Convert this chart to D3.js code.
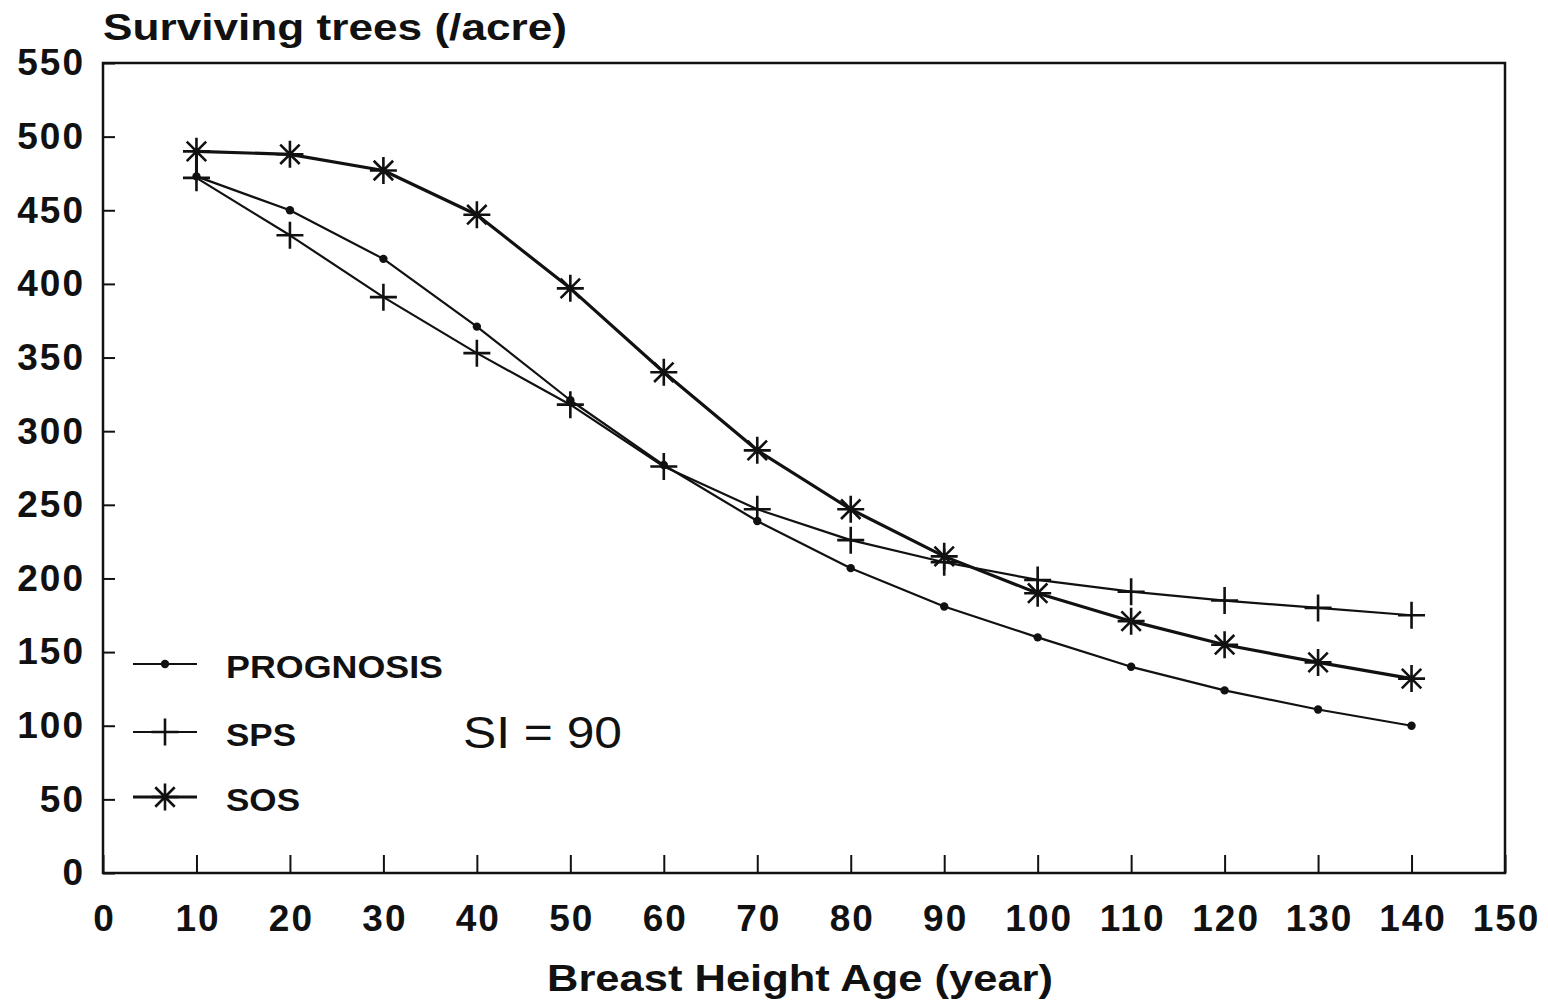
<!DOCTYPE html>
<html>
<head>
<meta charset="utf-8">
<script src="https://cdn.jsdelivr.net/npm/d3@7"></script>
<style>
  html, body { margin: 0; padding: 0; background: #fff; }
  svg { display: block; }
  text { font-family: "Liberation Sans", Arial, Helvetica, sans-serif; fill: #111; }
</style>
</head>
<body>
<svg id="chart" width="1548" height="1002"></svg>
<script>
// Surviving trees per acre by breast height age, three growth models (SI = 90)
const ages = [10, 20, 30, 40, 50, 60, 70, 80, 90, 100, 110, 120, 130, 140];
const prognosis = [473, 450, 417, 371, 321, 277, 239, 207, 181, 160, 140, 124, 111, 100];
const sps = [472, 433, 391, 353, 318, 276, 247, 226, 211, 199, 191, 185, 180, 175];
const sos = [490, 488, 477, 447, 397, 340, 287, 247, 215, 190, 171, 155, 143, 132];
const xTicks = [0, 10, 20, 30, 40, 50, 60, 70, 80, 90, 100, 110, 120, 130, 140, 150];
const yTicks = [0, 50, 100, 150, 200, 250, 300, 350, 400, 450, 500, 550];
const seriesNames = ["PROGNOSIS", "SPS", "SOS"];

const svg = d3.select("#chart");
const ink = "#111";

const x = d3.scaleLinear().domain([0, 150]).range([103, 1505]);
const y = d3.scaleLinear().domain([0, 550]).range([873, 63]);

// axes with inward ticks
const xAxis = d3.axisBottom(x).tickValues(xTicks).tickSizeInner(-18).tickSizeOuter(0).tickPadding(32);
const yAxis = d3.axisLeft(y).tickValues(yTicks).tickSizeInner(-12).tickSizeOuter(0).tickPadding(18);

const gx = svg.append("g").attr("transform", `translate(0,${y(0)})`).call(xAxis);
const gy = svg.append("g").attr("transform", `translate(${x(0)},0)`).call(yAxis);
[gx, gy].forEach(g => {
  g.select(".domain").remove();
  g.selectAll(".tick line").attr("stroke", ink).attr("stroke-width", 2);
  g.selectAll(".tick text")
    .attr("fill", ink)
    .style("font-size", "37px")
    .style("font-weight", "bold")
    .style("letter-spacing", "2px")
    .style("font-family", "'Liberation Sans', Arial, sans-serif");
});
gx.selectAll(".tick text").attr("dx", "1px");

// plot frame
svg.append("rect")
  .attr("x", x(0)).attr("y", y(550))
  .attr("width", x(150) - x(0)).attr("height", y(0) - y(550))
  .attr("fill", "none").attr("stroke", ink).attr("stroke-width", 2.5);

// axis titles
svg.append("text")
  .attr("x", 103).attr("y", 40)
  .attr("textLength", 464).attr("lengthAdjust", "spacingAndGlyphs")
  .style("font-size", "36px").style("font-weight", "bold")
  .text("Surviving trees (/acre)");

svg.append("text")
  .attr("x", 547).attr("y", 991)
  .attr("textLength", 506).attr("lengthAdjust", "spacingAndGlyphs")
  .style("font-size", "36px").style("font-weight", "bold")
  .text("Breast Height Age (year)");

// marker shapes
const plusPath = r => `M${-r},0H${r}M0,${-r}V${r}`;
const starPath = r => {
  const d = r * 0.72;
  return `M${-r},0H${r}M0,${-r}V${r}M${-d},${-d}L${d},${d}M${-d},${d}L${d},${-d}`;
};

const line = d3.line().x(d => x(d[0])).y(d => y(d[1]));

const series = [
  { name: seriesNames[0], values: prognosis, width: 2.2, marker: "dot", labelLen: 217 },
  { name: seriesNames[1], values: sps, width: 2.2, marker: "plus", labelLen: 70 },
  { name: seriesNames[2], values: sos, width: 3.2, marker: "star", labelLen: 74 }
];

// short joining stroke at the first age between the SOS and PROGNOSIS starts
svg.append("path")
  .attr("d", line([[ages[0], sos[0]], [ages[0], prognosis[0]]]))
  .attr("fill", "none").attr("stroke", ink).attr("stroke-width", 3);

function drawMarker(g, kind, cx, cy) {
  if (kind === "dot") {
    g.append("circle").attr("cx", cx).attr("cy", cy).attr("r", 4.2).attr("fill", ink);
  } else if (kind === "plus") {
    g.append("path").attr("transform", `translate(${cx},${cy})`).attr("d", plusPath(13.5))
      .attr("stroke", ink).attr("stroke-width", 2.6).attr("fill", "none");
  } else {
    g.append("path").attr("transform", `translate(${cx},${cy})`).attr("d", starPath(13.5))
      .attr("stroke", ink).attr("stroke-width", 2.6).attr("fill", "none");
  }
}

series.forEach(s => {
  const pts = ages.map((a, i) => [a, s.values[i]]);
  svg.append("path")
    .attr("d", line(pts))
    .attr("fill", "none").attr("stroke", ink)
    .attr("stroke-width", s.width).attr("stroke-linejoin", "round");
  const g = svg.append("g");
  pts.forEach(p => drawMarker(g, s.marker, x(p[0]), y(p[1])));
});

// legend
const legendY = [664, 732, 797];
series.forEach((s, i) => {
  const g = svg.append("g");
  g.append("line").attr("x1", 133).attr("x2", 197).attr("y1", legendY[i]).attr("y2", legendY[i])
    .attr("stroke", ink).attr("stroke-width", s.width);
  drawMarker(g, s.marker, 165, legendY[i]);
  g.append("text").attr("x", 226).attr("y", legendY[i] + 14)
    .attr("textLength", s.labelLen).attr("lengthAdjust", "spacingAndGlyphs")
    .style("font-size", "31px").style("font-weight", "bold")
    .text(s.name);
});

svg.append("text")
  .attr("x", 463).attr("y", 748)
  .attr("textLength", 159).attr("lengthAdjust", "spacingAndGlyphs")
  .style("font-size", "44px")
  .text("SI = 90");
</script>
</body>
</html>
